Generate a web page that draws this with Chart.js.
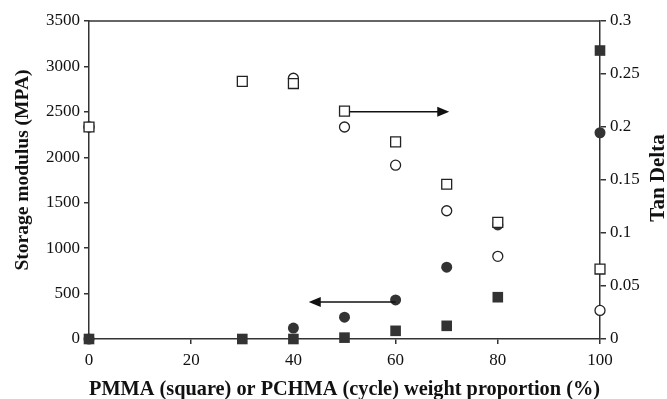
<!DOCTYPE html>
<html>
<head>
<meta charset="utf-8">
<script src="https://cdn.jsdelivr.net/npm/chart.js@4/dist/chart.umd.min.js"></script>
<style>
  html, body { margin: 0; padding: 0; background: #fff; }
  #wrap { width: 667px; height: 399px; }
</style>
</head>
<body>
<div id="wrap"><canvas id="dmaChart"></canvas></div>
<script>
// weight proportion (%)
const xPMMA = [0, 30, 40, 50, 60, 70, 80, 100];
const xPCHMA = [0, 40, 50, 60, 70, 80, 100];

// storage modulus (MPA), left axis
const modulusPMMA = [0, 0, 0, 15, 90, 145, 460, 3175];
const modulusPCHMA = [0, 120, 240, 430, 790, 1255, 2270];

// tan delta, right axis
const tanPMMA = [0.2, 0.243, 0.241, 0.215, 0.186, 0.146, 0.11, 0.066];
const tanPCHMA = [0.2, 0.246, 0.2, 0.164, 0.121, 0.078, 0.027];

// arrows in data units [x, modulus]
const arrowToTan = [[51, 2500], [70.5, 2500]];
const arrowToModulus = [[60, 407], [43, 407]];

const ink = '#333';
const serif = '"Liberation Serif", "Times New Roman", serif';
const leftTitle = 'Storage modulus (MPA)';
const rightTitle = 'Tan Delta';

function pts(xs, ys) {
    return xs.map((x, i) => ({ x: x, y: ys[i] }));
}

function vText(ctx, text, x, y) {
    ctx.save();
    ctx.translate(x, y);
    ctx.rotate(-Math.PI / 2);
    ctx.fillText(text, 0, 0);
    ctx.restore();
}

const frame = {
    id: 'frame',
    afterDatasetsDraw(chart) {
        const { ctx, chartArea: a, scales } = chart;
        ctx.save();
        ctx.strokeStyle = ink;
        ctx.lineWidth = 1.5;
        ctx.beginPath();
        ctx.moveTo(a.left, a.top);
        ctx.lineTo(a.right, a.top);
        ctx.stroke();

        // arrows
        [arrowToTan, arrowToModulus].forEach(ar => {
            const x0 = scales.x.getPixelForValue(ar[0][0]);
            const x1 = scales.x.getPixelForValue(ar[1][0]);
            const y = scales.y.getPixelForValue(ar[0][1]);
            const dir = x1 > x0 ? 1 : -1;
            ctx.strokeStyle = '#111';
            ctx.fillStyle = '#111';
            ctx.lineWidth = 1.5;
            ctx.beginPath();
            ctx.moveTo(x0, y);
            ctx.lineTo(x1 - dir * 8, y);
            ctx.stroke();
            ctx.beginPath();
            ctx.moveTo(x1, y);
            ctx.lineTo(x1 - dir * 12, y - 5);
            ctx.lineTo(x1 - dir * 12, y + 5);
            ctx.closePath();
            ctx.fill();
        });

        // axis titles, reading bottom to top
        ctx.fillStyle = '#111';
        ctx.textAlign = 'center';
        ctx.textBaseline = 'middle';
        ctx.font = 'bold 19.5px ' + serif;
        vText(ctx, leftTitle, 23, 170);
        ctx.font = 'bold 21px ' + serif;
        vText(ctx, rightTitle, 659, 178);
        ctx.restore();
    }
};

const tickFont = { family: serif, size: 17 };

new Chart(document.getElementById('dmaChart').getContext('2d'), {
    type: 'scatter',
    data: {
        datasets: [
            {
                label: 'PMMA tan delta',
                data: pts(xPMMA, tanPMMA),
                yAxisID: 'y2',
                pointStyle: 'rect',
                pointRadius: 7,
                backgroundColor: '#fff',
                borderColor: '#222',
                borderWidth: 1.3,
                clip: false
            },
            {
                label: 'PCHMA tan delta',
                data: pts(xPCHMA, tanPCHMA),
                yAxisID: 'y2',
                pointStyle: 'circle',
                pointRadius: 5,
                backgroundColor: '#fff',
                borderColor: '#222',
                borderWidth: 1.3,
                clip: false
            },
            {
                label: 'PMMA modulus',
                data: pts(xPMMA, modulusPMMA),
                yAxisID: 'y',
                pointStyle: 'rect',
                pointRadius: 7.5,
                backgroundColor: ink,
                borderColor: ink,
                borderWidth: 0,
                clip: false
            },
            {
                label: 'PCHMA modulus',
                data: pts(xPCHMA, modulusPCHMA),
                yAxisID: 'y',
                pointStyle: 'circle',
                pointRadius: 5.5,
                backgroundColor: ink,
                borderColor: ink,
                borderWidth: 0,
                clip: false
            }
        ]
    },
    options: {
        responsive: true,
        maintainAspectRatio: false,
        animation: false,
        layout: { padding: { top: 21, left: 0, right: 0, bottom: 0 } },
        plugins: {
            legend: { display: false },
            tooltip: { enabled: false }
        },
        scales: {
            x: {
                type: 'linear',
                min: 0,
                max: 100,
                ticks: { stepSize: 20, color: '#111', font: tickFont, padding: 6 },
                grid: { drawOnChartArea: false, tickLength: 5, color: ink, lineWidth: 1.5 },
                border: { color: ink, width: 1.5 },
                title: {
                    display: true,
                    text: 'PMMA (square) or PCHMA (cycle) weight proportion (%)',
                    color: '#111',
                    font: { family: serif, size: 22, weight: 'bold' },
                    padding: { top: 0, bottom: -4 }
                },
                afterFit(s) { s.height = 60; }
            },
            y: {
                position: 'left',
                min: 0,
                max: 3500,
                ticks: {
                    stepSize: 500,
                    color: '#111',
                    font: tickFont,
                    padding: 4,
                    callback: v => String(v)
                },
                grid: { drawOnChartArea: false, tickLength: 5, color: ink, lineWidth: 1.5 },
                border: { color: ink, width: 1.5 },
                afterFit(s) { s.width = 89; }
            },
            y2: {
                position: 'right',
                min: 0,
                max: 0.3,
                ticks: {
                    stepSize: 0.05,
                    color: '#111',
                    font: tickFont,
                    padding: 4,
                    callback: v => String(Math.round(v * 100) / 100)
                },
                grid: { drawOnChartArea: false, tickLength: 6, color: ink, lineWidth: 1.5 },
                border: { color: ink, width: 1.5 },
                afterFit(s) { s.width = 67; }
            }
        }
    },
    plugins: [frame]
});
</script>
</body>
</html>
